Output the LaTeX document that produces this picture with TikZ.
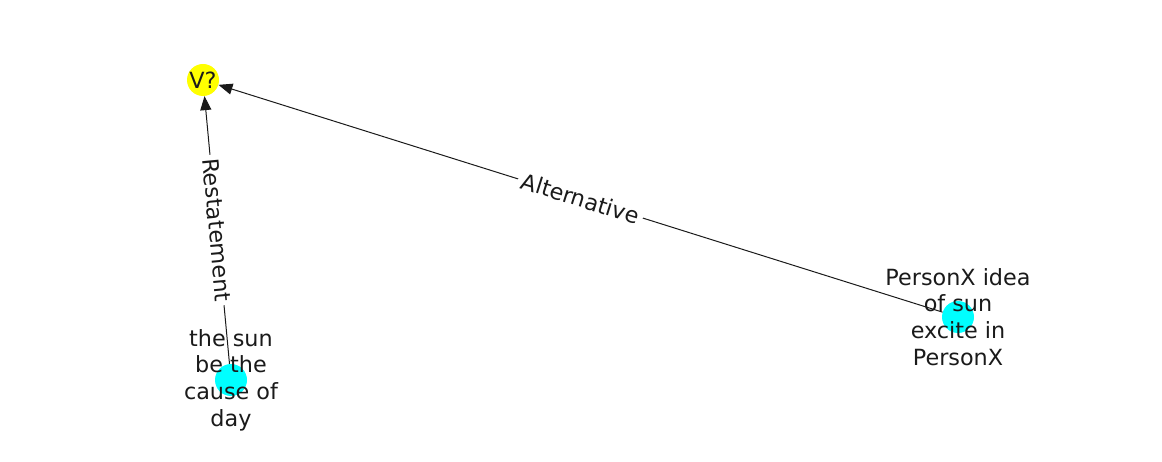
\documentclass[tikz,border=0pt]{standalone}
\usepackage{fontspec}
\setmainfont{DejaVu Sans}
\usetikzlibrary{arrows.meta}
\definecolor{nodecyan}{RGB}{0,255,255}
\definecolor{nodeyellow}{RGB}{255,255,0}
\definecolor{inkgray}{RGB}{26,26,26}
\begin{document}
\begin{tikzpicture}[x=1pt,y=-1pt,
  dot/.style={circle,minimum size=32pt,inner sep=0pt},
  lbl/.style={align=center,font=\fontsize{22.3}{26.7}\selectfont,inner sep=0pt,text=inkgray},
  edge/.style={draw=inkgray,line width=1pt,-{Triangle[length=14pt,width=11pt]}},
  elabel/.style={fill=white,inner xsep=4pt,inner ysep=3pt,font=\fontsize{22.3}{26}\selectfont,text=inkgray}]
\useasboundingbox (0,0) rectangle (1162,462);
\node[dot,fill=nodeyellow] (v) at (203,80) {};
\node[dot,fill=nodecyan] (s) at (231,380) {};
\node[dot,fill=nodecyan] (p) at (958,317) {};
\draw[edge] (s) -- node[elabel,sloped]{Restatement} (v);
\draw[edge] (p) -- node[elabel,sloped]{Alternative} (v);
\node[lbl] (vl) at (v) {V?};
\node[lbl] (sl) at (s) {the sun\\be the\\cause of\\day};
\node[lbl] (pl) at (p) {PersonX idea\\of sun\\excite in\\PersonX};
\end{tikzpicture}
\end{document}
